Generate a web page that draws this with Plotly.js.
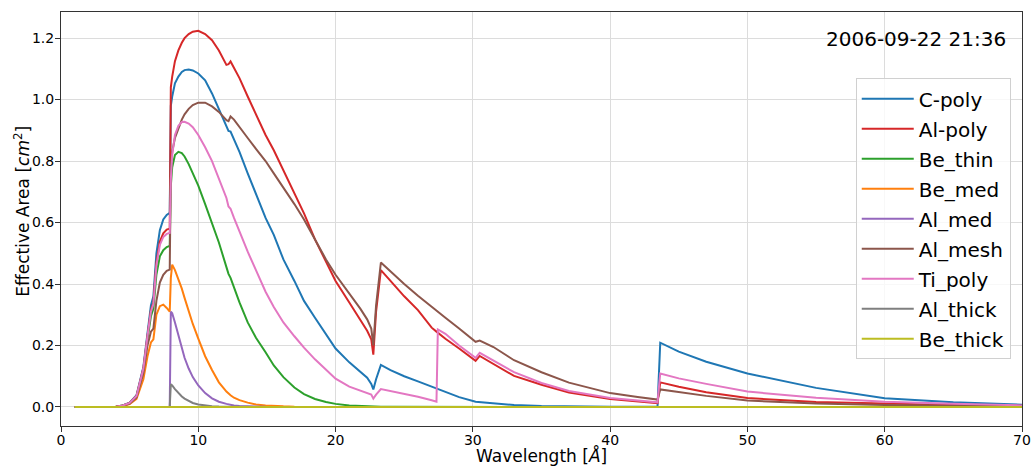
<!DOCTYPE html>
<html>
<head>
<meta charset="utf-8">
<script src="https://cdn.plot.ly/plotly-3.0.1.min.js"></script>
<style>html,body{margin:0;padding:0;background:#fff;}#chart{width:1035px;height:466px;}</style>
</head>
<body>
<div id="chart"></div>
<script>
// Wavelength grid (Angstrom)
const wavelength = [1, 2, 3, 4, 4.5, 5, 5.5, 6, 6.3, 6.55, 6.73, 6.95, 7.2, 7.45, 7.7, 7.92,
  8.0, 8.1, 8.3, 8.55, 8.8, 9.0, 9.3, 9.6, 10, 10.5,
  11, 11.5, 12.05, 12.2, 12.35, 12.6, 13, 13.6, 14.2, 14.9,
  15.5, 16.2, 17, 17.7, 18.5, 19.3, 20, 21, 21.8, 22.3,
  22.6, 22.75, 22.95, 23.3, 24, 25, 26, 27, 27.35, 27.45,
  28, 29, 30.2, 30.5, 31.5, 33, 35, 37, 40, 42,
  43.45, 43.65, 45, 47, 50, 55, 60, 65, 70];

const cPoly = [0, 0, 0, 0.001, 0.005, 0.014, 0.038, 0.13, 0.24, 0.33, 0.36, 0.5, 0.575, 0.61, 0.625, 0.632,
  0.98, 1.01, 1.053, 1.075, 1.09, 1.096, 1.098, 1.095, 1.085, 1.063,
  1.02, 0.97, 0.912, 0.898, 0.896, 0.87, 0.83, 0.76, 0.69, 0.615,
  0.56, 0.48, 0.41, 0.345, 0.29, 0.235, 0.19, 0.145, 0.115, 0.095,
  0.075, 0.057, 0.09, 0.137, 0.12, 0.1, 0.083, 0.066, 0.06, 0.058,
  0.047, 0.032, 0.017, 0.016, 0.011, 0.006, 0.003, 0.0015, 0.0007, 0.0004,
  0.0003, 0.209, 0.18, 0.147, 0.109, 0.062, 0.028, 0.015, 0.0075];

const alPoly = [0, 0, 0, 0.001, 0.005, 0.013, 0.036, 0.125, 0.23, 0.315, 0.34, 0.47, 0.538, 0.565, 0.577, 0.58,
  1.04, 1.075, 1.125, 1.16, 1.185, 1.2, 1.213, 1.221, 1.224, 1.213,
  1.193, 1.16, 1.113, 1.115, 1.124, 1.105, 1.07, 1.01, 0.95, 0.885,
  0.835, 0.77, 0.695, 0.63, 0.545, 0.47, 0.41, 0.34, 0.285, 0.248,
  0.22, 0.17, 0.31, 0.445, 0.41, 0.36, 0.315, 0.258, 0.245, 0.241,
  0.222, 0.19, 0.15, 0.166, 0.14, 0.101, 0.072, 0.047, 0.026, 0.017,
  0.012, 0.08, 0.066, 0.048, 0.029, 0.016, 0.01, 0.006, 0.004];

const beThin = [0, 0, 0, 0.001, 0.005, 0.012, 0.034, 0.12, 0.22, 0.295, 0.32, 0.43, 0.49, 0.51, 0.52, 0.524,
  0.72, 0.78, 0.82, 0.83, 0.826, 0.815, 0.79, 0.76, 0.72, 0.66,
  0.6, 0.535, 0.455, 0.433, 0.42, 0.39, 0.34, 0.275, 0.225, 0.178,
  0.135, 0.097, 0.063, 0.042, 0.026, 0.016, 0.01, 0.005, 0.003, 0.002,
  0.0015, 0.0015, 0.0012, 0.001, 0.0008, 0.0005, 0.0003, 0.0002, 0.0002, 0.0002,
  0.0001, 0.0001, 0, 0, 0, 0, 0, 0, 0, 0,
  0, 0, 0, 0, 0, 0, 0, 0, 0];

const beMed = [0, 0, 0, 0.001, 0.003, 0.009, 0.026, 0.09, 0.165, 0.21, 0.22, 0.3, 0.328, 0.333, 0.322, 0.31,
  0.42, 0.463, 0.445, 0.418, 0.385, 0.355, 0.31, 0.27, 0.222, 0.165,
  0.12, 0.08, 0.05, 0.043, 0.038, 0.03, 0.022, 0.014, 0.008, 0.005,
  0.003, 0.002, 0.001, 0.0007, 0.0005, 0.0003, 0.0002, 0.0001, 0, 0,
  0, 0, 0, 0, 0, 0, 0, 0, 0, 0,
  0, 0, 0, 0, 0, 0, 0, 0, 0, 0,
  0, 0, 0, 0, 0, 0, 0, 0, 0];

const alMed = [0, 0, 0, 0, 0, 0, 0, 0, 0, 0, 0, 0, 0, 0, 0, 0,
  0.31, 0.305, 0.275, 0.234, 0.195, 0.16, 0.125, 0.097, 0.07, 0.045,
  0.028, 0.017, 0.01, 0.008, 0.007, 0.005, 0.003, 0.0015, 0.0008, 0.0004,
  0.0002, 0.0001, 0, 0, 0, 0, 0, 0, 0, 0,
  0, 0, 0, 0, 0, 0, 0, 0, 0, 0,
  0, 0, 0, 0, 0, 0, 0, 0, 0, 0,
  0, 0, 0, 0, 0, 0, 0, 0, 0];

const alMesh = [0, 0, 0, 0.001, 0.004, 0.011, 0.031, 0.11, 0.2, 0.245, 0.255, 0.345, 0.405, 0.43, 0.443, 0.447,
  0.78, 0.83, 0.875, 0.906, 0.935, 0.952, 0.97, 0.982, 0.99, 0.99,
  0.978, 0.96, 0.933, 0.93, 0.945, 0.935, 0.91, 0.875, 0.84, 0.8,
  0.76, 0.715, 0.66, 0.61, 0.545, 0.48, 0.43, 0.37, 0.32, 0.285,
  0.255, 0.2, 0.33, 0.47, 0.44, 0.4, 0.362, 0.325, 0.312, 0.308,
  0.29, 0.255, 0.212, 0.216, 0.195, 0.152, 0.113, 0.079, 0.045, 0.032,
  0.024, 0.057, 0.048, 0.036, 0.021, 0.011, 0.006, 0.004, 0.002];

const tiPoly = [0, 0, 0, 0.001, 0.005, 0.013, 0.036, 0.125, 0.23, 0.31, 0.335, 0.46, 0.527, 0.553, 0.563, 0.566,
  0.74, 0.82, 0.885, 0.915, 0.927, 0.928, 0.922, 0.91, 0.885, 0.845,
  0.8, 0.745, 0.68, 0.652, 0.645, 0.615, 0.57, 0.505, 0.445, 0.375,
  0.325, 0.275, 0.23, 0.193, 0.155, 0.12, 0.092, 0.066, 0.052, 0.045,
  0.04, 0.027, 0.04, 0.058, 0.052, 0.043, 0.033, 0.022, 0.017, 0.252,
  0.238, 0.2, 0.16, 0.176, 0.15, 0.113, 0.078, 0.052, 0.029, 0.02,
  0.015, 0.109, 0.093, 0.075, 0.05, 0.03, 0.017, 0.01, 0.005];

const alThick = [0, 0, 0, 0, 0, 0, 0, 0, 0, 0, 0, 0, 0, 0, 0, 0,
  0.074, 0.07, 0.058, 0.045, 0.034, 0.027, 0.019, 0.013, 0.008, 0.004,
  0.0025, 0.0015, 0.0008, 0.0006, 0.0005, 0.0004, 0.0002, 0.0001, 0, 0,
  0, 0, 0, 0, 0, 0, 0, 0, 0, 0,
  0, 0, 0, 0, 0, 0, 0, 0, 0, 0,
  0, 0, 0, 0, 0, 0, 0, 0, 0, 0,
  0, 0, 0, 0, 0, 0, 0, 0, 0];

const beThick = [0, 0, 0, 0, 0, 0, 0.0005, 0.001, 0.0015, 0.002, 0.002, 0.002, 0.0015, 0.0015, 0.001, 0.001,
  0.0015, 0.0015, 0.001, 0.001, 0.0008, 0.0006, 0.0004, 0.0003, 0.0002, 0.0001,
  0, 0, 0, 0, 0, 0, 0, 0, 0, 0,
  0, 0, 0, 0, 0, 0, 0, 0, 0, 0,
  0, 0, 0, 0, 0, 0, 0, 0, 0, 0,
  0, 0, 0, 0, 0, 0, 0, 0, 0, 0,
  0, 0, 0, 0, 0, 0, 0, 0, 0];

const seriesNames = ['C-poly', 'Al-poly', 'Be_thin', 'Be_med', 'Al_med', 'Al_mesh', 'Ti_poly', 'Al_thick', 'Be_thick'];
const seriesValues = [cPoly, alPoly, beThin, beMed, alMed, alMesh, tiPoly, alThick, beThick];
const seriesColors = ['#1f77b4', '#d62728', '#2ca02c', '#ff7f0e', '#9467bd', '#8c564b', '#e377c2', '#7f7f7f', '#bcbd22'];
const timestamp = '2006-09-22 21:36';
const xTitle = 'Wavelength [<i>Å</i>]';
const yTitle = 'Effective Area [<i>cm</i><sup>2</sup>]';
const xTicks = [0, 10, 20, 30, 40, 50, 60, 70];
const yTicks = [0.0, 0.2, 0.4, 0.6, 0.8, 1.0, 1.2];

const FONT = 'DejaVu Sans, sans-serif';
const traces = seriesNames.map((n, i) => ({
  x: wavelength, y: seriesValues[i], name: n, type: 'scatter', mode: 'lines',
  line: {color: seriesColors[i], width: 2},
  legendgroup: 'g' + i
}));

const layout = {
  width: 1035, height: 466,
  margin: {l: 61, r: 13, t: 12, b: 40},
  paper_bgcolor: '#fff', plot_bgcolor: '#fff',
  font: {family: FONT, color: '#000', size: 14},
  showlegend: true,
  legend: {
    x: 0.827, y: 0.84, xanchor: 'left', yanchor: 'top',
    font: {family: FONT, size: 20, color: '#000'},
    bgcolor: 'rgba(255,255,255,0.8)', bordercolor: '#d0d0d0', borderwidth: 1,
    tracegroupgap: 1, itemwidth: 52
  },
  xaxis: {
    range: [0, 70], tickvals: xTicks, ticktext: xTicks.map(String),
    showgrid: true, gridcolor: '#dcdcdc', gridwidth: 1, zeroline: false,
    showline: true, mirror: true, linecolor: '#333', linewidth: 1,
    ticks: 'outside', ticklen: 5, tickcolor: '#333', ticklabelstandoff: -4,
    tickfont: {family: FONT, size: 14, color: '#000'},
    automargin: false
  },
  yaxis: {
    range: [-0.062, 1.285], tickvals: yTicks, ticktext: yTicks.map(v => v.toFixed(1)),
    showgrid: true, gridcolor: '#dcdcdc', gridwidth: 1, zeroline: false,
    showline: true, mirror: true, linecolor: '#333', linewidth: 1,
    ticks: 'outside', ticklen: 5, tickcolor: '#333', ticklabelstandoff: -2,
    tickfont: {family: FONT, size: 14, color: '#000'},
    automargin: false
  },
  annotations: [
    {
      text: timestamp, xref: 'paper', yref: 'paper', x: 0.985, y: 0.935,
      xanchor: 'right', yanchor: 'middle', showarrow: false,
      font: {family: FONT, size: 20, color: '#000'}
    },
    {
      text: xTitle, xref: 'paper', yref: 'paper', x: 0.5, y: -0.071,
      xanchor: 'center', yanchor: 'middle', showarrow: false,
      font: {family: FONT, size: 17, color: '#000'}
    },
    {
      text: yTitle, xref: 'paper', yref: 'paper', x: -0.0406, y: 0.52,
      xanchor: 'center', yanchor: 'middle', showarrow: false, textangle: -90,
      font: {family: FONT, size: 17, color: '#000'}
    }
  ]
};

Plotly.newPlot('chart', traces, layout, {staticPlot: true, displayModeBar: false});
</script>
</body>
</html>
